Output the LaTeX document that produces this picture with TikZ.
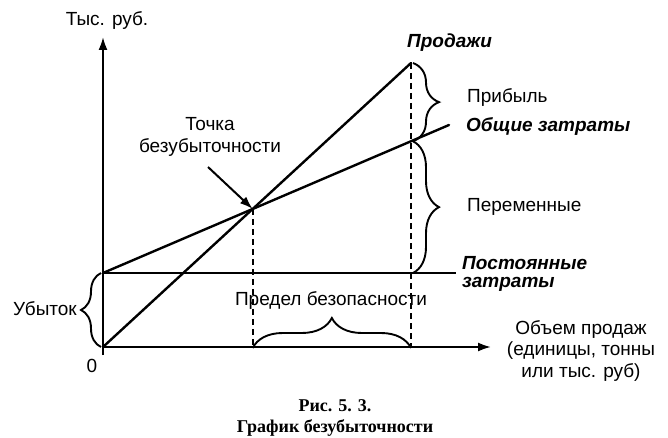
\documentclass[tikz,border=0pt]{standalone}
\usepackage{fontspec}
\setmainfont{Liberation Sans}
\newfontfamily\capfont{Liberation Serif}
\usetikzlibrary{arrows.meta,decorations.pathreplacing,positioning}

\tikzset{
  lbl/.style={inner sep=0pt, font=\fontsize{19}{21.5}\selectfont},
  linelbl/.style={inner sep=0pt, align=left, font=\fontsize{19}{18.5}\selectfont\bfseries\itshape},
  graph/.style={line width=2.4pt, line cap=round},
  guide/.style={line width=1.8pt, dash pattern=on 6pt off 4pt},
  brc/.style={line width=1.9pt, decorate, decoration={brace, amplitude=#1}},
}

\begin{document}
\begin{tikzpicture}[x=1pt,y=-1pt,>={Latex[length=13pt,width=9pt]}]
  \useasboundingbox (0,0) rectangle (668,438);

  % Points
  \coordinate (O) at (103,347);
  \coordinate (F0) at (103,273);
  \coordinate (F1) at (456,273);
  \coordinate (S1) at (411,63);
  \coordinate (C1) at (449,125);
  \coordinate (BE) at (intersection of O--S1 and F0--C1);
  \coordinate (SC) at (intersection of S1--{S1|-O} and F0--C1);

  % Axes
  \draw[->, line width=2pt] (103,355) -- (103,37) coordinate (ytop);
  \draw[->, line width=2pt] (O) -- (491,347) coordinate (xend);
  \node[lbl] (yl) at (107,21) {Тыс. руб.};
  \node[lbl] (zero) at (92,366) {0};

  % Lines
  \draw[line width=1.8pt] (F0) -- (F1);
  \draw[graph] (O) -- (S1);
  \draw[graph] (F0) -- (C1);
  \draw[guide] (BE) -- (BE |- O);
  \draw[guide] (S1) -- (S1 |- O);

  % Braces
  \draw[brc=26pt] ([xshift=2pt]S1) -- ([xshift=2pt]SC);
  \draw[brc=26pt] ([xshift=2pt]SC) -- ([xshift=2pt]S1 |- F0);
  \draw[brc=20pt] ([xshift=-2pt]O) -- ([xshift=-2pt]F0);
  \draw[brc=30pt] ([yshift=-1pt]BE |- O) -- ([yshift=-1pt]S1 |- O);

  % Labels
  \node[linelbl, anchor=west] (sales) at (407,43) {Продажи};
  \node[lbl, anchor=west] (profit) at (467,98) {Прибыль};
  \node[linelbl, anchor=west] (total) at (466,127) {Общие затраты};
  \node[lbl, anchor=west] (var) at (467,207) {Переменные};
  \node[linelbl, anchor=west] (fixed) at (462,274) {Постоянные\\затраты};
  \node[lbl, anchor=east] (loss) at (77,309) {Убыток};
  \node[lbl] (safety) at (331,301) {Предел безопасности};
  \node[lbl, align=center] (vol) at (581,351) {Объем продаж\\(единицы, тонны\\или тыс. руб)};

  % Break-even
  \node[lbl, align=center] (bep) at (210,137) {Точка\\безубыточности};
  \coordinate (ptr) at (208,167);
  \draw[->, line width=2pt] (ptr) -- (BE);

  % Caption
  \node[inner sep=0pt, align=center, font=\capfont\fontsize{18}{21}\selectfont\bfseries] (cap) at (335,418)
    {Рис. 5. 3.\\График безубыточности};
\end{tikzpicture}
\end{document}
